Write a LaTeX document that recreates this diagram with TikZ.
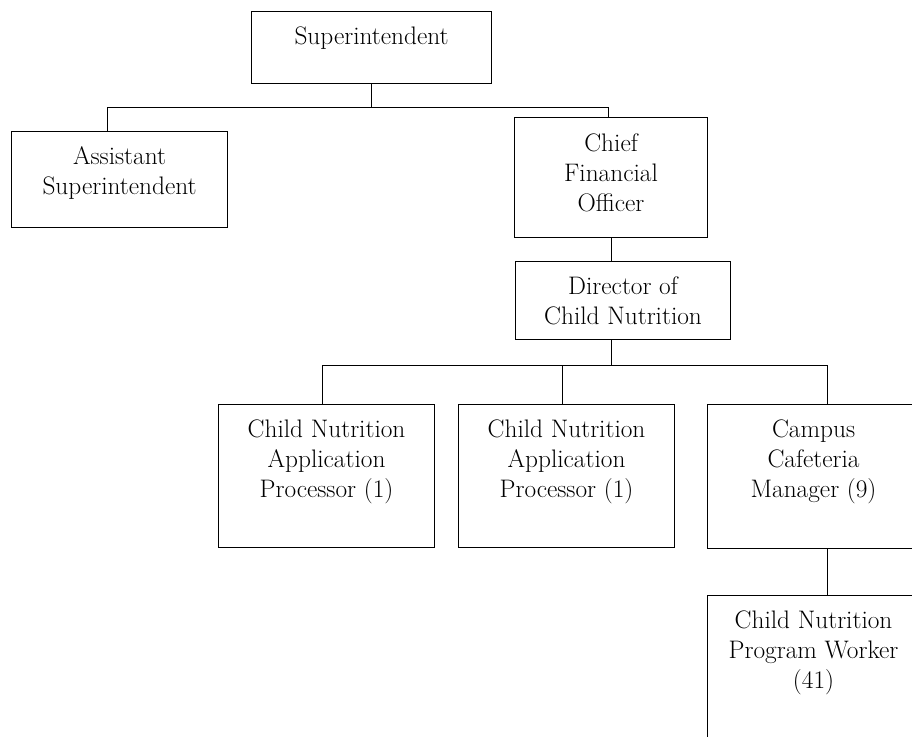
\documentclass[tikz,border=0pt]{standalone}
\begin{document}
\begin{tikzpicture}[x=0.75pt,y=-0.75pt,
  box/.style={draw=black, line width=0.8pt, anchor=north west, inner sep=0pt},
  lbl/.style={anchor=north, align=center, inner sep=0pt,
              font=\fontsize{19}{22.4}\selectfont},
  link/.style={draw=black, line width=0.7pt}]
\useasboundingbox (0,0) rectangle (912,736);
\clip (0,0) rectangle (912,736);

% boxes
\node[box, minimum width=180pt,    minimum height=54pt]     (sup)  at (251,11)  {};
\node[box, minimum width=162pt,    minimum height=72pt]     (asst) at (11,131)  {};
\node[box, minimum width=144.75pt, minimum height=90pt]     (cfo)  at (514,117) {};
\node[box, minimum width=161.25pt, minimum height=58.5pt]   (dir)  at (515,261) {};
\node[box, minimum width=162pt,    minimum height=107.25pt] (pa)   at (218,404) {};
\node[box, minimum width=162pt,    minimum height=107.25pt] (pb)   at (458,404) {};
\node[box, minimum width=159pt,    minimum height=108pt]    (cam)  at (707,404) {};
\node[box, minimum width=159pt,    minimum height=135pt]    (wk)   at (707,595) {};

% box texts
\node[lbl] (supT)  at ([yshift=-11.5pt]sup.north)  {Superintendent};
\node[lbl] (asstT) at ([yshift=-11.5pt]asst.north) {Assistant\\Superintendent};
\node[lbl] (cfoT)  at ([yshift=-12.5pt]cfo.north)  {Chief\\Financial\\Officer};
\node[lbl] (dirT)  at ([yshift=-11.5pt]dir.north)  {Director of\\Child Nutrition};
\node[lbl] (paT)   at ([yshift=-11.5pt]pa.north)   {Child Nutrition\\Application\\Processor (1)};
\node[lbl] (pbT)   at ([yshift=-11.5pt]pb.north)   {Child Nutrition\\Application\\Processor (1)};
\node[lbl] (camT)  at ([yshift=-11.5pt]cam.north)  {Campus\\Cafeteria\\Manager (9)};
\node[lbl] (wkT)   at ([yshift=-11.5pt]wk.north)   {Child Nutrition\\Program Worker\\(41)};

% junction points of the two buses
\coordinate (busL)  at (107,107);
\coordinate (busR)  at (608,107);
\coordinate (bus2L) at (322,365);
\coordinate (bus2M) at (562,365);
\coordinate (bus2R) at (827,365);

% connectors
\draw[link] (sup.south) -- (sup.south |- busL);
\draw[link] (busL) -- (busR);
\draw[link] (busL) -- (busL |- asst.north);
\draw[link] (busR) -- (busR |- cfo.north);
\draw[link] (cfo.south) -- (cfo.south |- dir.north);
\draw[link] (dir.south -| cfo.south) -- (cfo.south |- bus2L);
\draw[link] (bus2L) -- (bus2R);
\draw[link] (bus2L) -- (bus2L |- pa.north);
\draw[link] (bus2M) -- (bus2M |- pb.north);
\draw[link] (bus2R) -- (bus2R |- cam.north);
\draw[link] (cam.south -| bus2R) -- (bus2R |- wk.north);
\end{tikzpicture}
\end{document}
